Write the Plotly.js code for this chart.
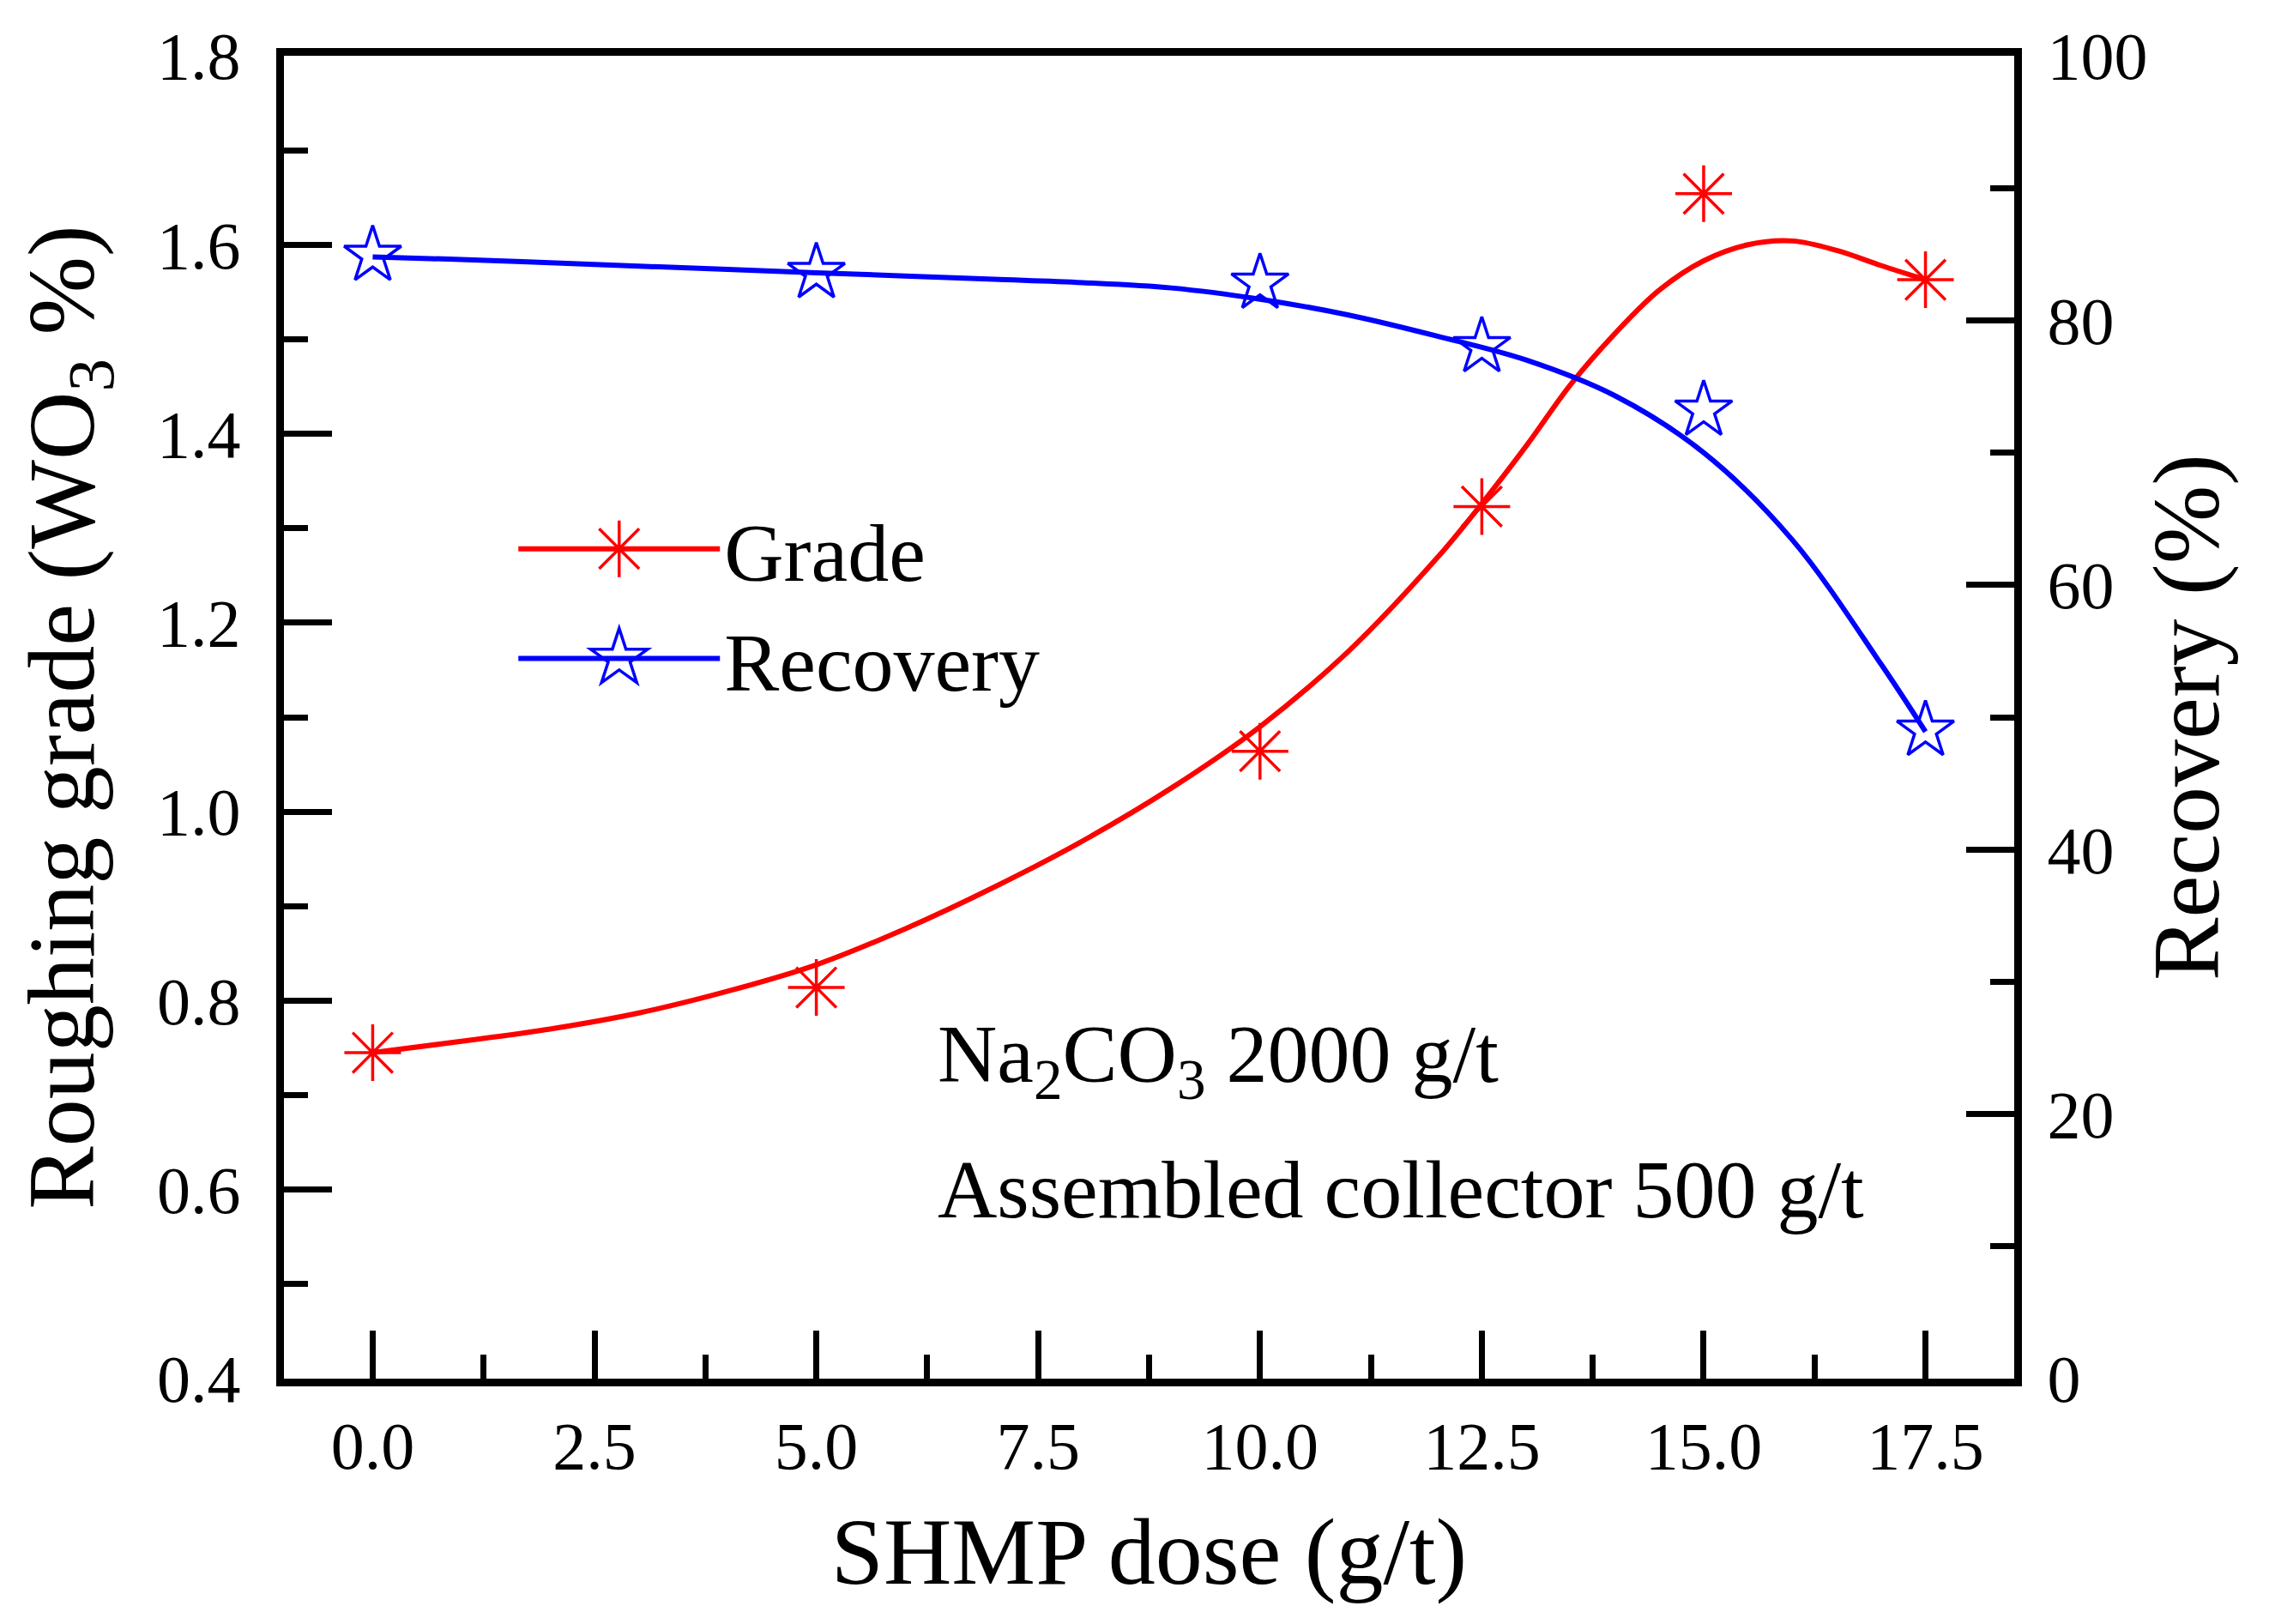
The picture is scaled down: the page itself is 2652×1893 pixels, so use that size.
<!DOCTYPE html>
<html>
<head>
<meta charset="utf-8">
<script src="https://cdn.plot.ly/plotly-3.0.1.min.js"></script>
<style>
  html, body { margin: 0; padding: 0; background: #ffffff; }
  #chart { width: 2652px; height: 1893px; }
</style>
</head>
<body>
<div id="chart"></div>
<script>
// ---- data ----
const doseX = [0, 5, 10, 12.5, 15, 17.5];
const gradeValues = [0.745, 0.814, 1.064, 1.323, 1.654, 1.563];
const recoveryValues = [84.9, 83.6, 82.8, 78.0, 73.2, 49.0];

// fitted curves as drawn in the reference
const gradeFitX = [0, 1, 2, 3, 4, 5, 6, 7, 8, 9, 10, 11, 12, 12.5, 13, 13.5, 14, 14.5, 15, 15.5, 16, 16.5, 17, 17.5];
const gradeFitY = [0.745, 0.757, 0.770, 0.787, 0.810, 0.838, 0.876, 0.920, 0.969, 1.025, 1.090, 1.170, 1.269, 1.326, 1.387, 1.452, 1.506, 1.552, 1.583, 1.600, 1.604, 1.594, 1.578, 1.563];
const recoveryFitX = [0, 1, 2, 3, 4, 5, 6, 7, 8, 9, 10, 11, 12, 13, 14, 15, 16, 17, 17.5];
const recoveryFitY = [84.8, 84.6, 84.35, 84.1, 83.85, 83.6, 83.35, 83.1, 82.85, 82.45, 81.6, 80.4, 78.8, 77.0, 74.3, 70.0, 63.4, 54.0, 48.9];

const xTickVals = [0, 2.5, 5, 7.5, 10, 12.5, 15, 17.5];
const xTickText = ['0.0', '2.5', '5.0', '7.5', '10.0', '12.5', '15.0', '17.5'];

const seriesNames = ['Grade', 'Recovery'];
const noteLines = ['Na<sub>2</sub>CO<sub>3</sub> 2000 g/t', 'Assembled collector 500 g/t'];

// separate points by gaps so the marker traces show a legend line without joining points
function gapped(arr) {
  const out = [];
  arr.forEach((v, i) => { if (i > 0) out.push(null); out.push(v); });
  return out;
}

const RED = '#ff0000';
const BLUE = '#0000ff';
const FONT = 'Liberation Serif, Times New Roman, serif';
const GRADE_MS = 55, REC_MS = 50, MLW = 3.5;

const traces = [
  {
    x: gradeFitX, y: gradeFitY, yaxis: 'y', mode: 'lines',
    line: { color: RED, width: 6, shape: 'spline', smoothing: 1 },
    showlegend: false, hoverinfo: 'skip'
  },
  {
    x: recoveryFitX, y: recoveryFitY, yaxis: 'y2', mode: 'lines',
    line: { color: BLUE, width: 6, shape: 'spline', smoothing: 1 },
    showlegend: false, hoverinfo: 'skip'
  },
  {
    name: seriesNames[0],
    x: gapped(doseX), y: gapped(gradeValues), yaxis: 'y',
    mode: 'lines+markers', connectgaps: false,
    line: { color: RED, width: 6 },
    marker: { symbol: 'asterisk-open', size: GRADE_MS, color: RED, line: { color: RED, width: MLW } }
  },
  {
    name: seriesNames[1],
    x: gapped(doseX), y: gapped(recoveryValues), yaxis: 'y2',
    mode: 'lines+markers', connectgaps: false,
    line: { color: BLUE, width: 6 },
    marker: { symbol: 'star-open', size: REC_MS, color: BLUE, line: { color: BLUE, width: MLW } }
  }
];

const axisCommon = {
  showgrid: false, zeroline: false,
  showline: true, linecolor: '#000000', linewidth: 9,
  ticks: 'inside', ticklen: 56, tickwidth: 7, tickcolor: '#000000',
  tickfont: { family: FONT, size: 78, color: '#000000' }
};

const layout = {
  width: 2652, height: 1893,
  paper_bgcolor: '#ffffff', plot_bgcolor: '#ffffff',
  margin: { l: 331, r: 304, t: 65, b: 286 },
  font: { family: FONT, color: '#000000' },
  xaxis: Object.assign({}, axisCommon, {
    range: [-1, 18.5], mirror: true,
    tickmode: 'array', tickvals: xTickVals, ticktext: xTickText,
    ticklabelstandoff: 2,
    minor: { dtick: 1.25, tick0: 0, ticks: 'inside', ticklen: 28, tickwidth: 7, tickcolor: '#000000' },
    title: { text: 'SHMP dose (g/t)', font: { family: FONT, size: 110, color: '#000000' }, standoff: 45 }
  }),
  yaxis: Object.assign({}, axisCommon, {
    range: [0.4, 1.8], tick0: 0.4, dtick: 0.2, tickformat: '.1f',
    ticklabelstandoff: 26,
    minor: { dtick: 0.1, tick0: 0.4, ticks: 'inside', ticklen: 28, tickwidth: 7, tickcolor: '#000000' },
    title: { text: 'Roughing grade (WO<sub>3</sub> %)', font: { family: FONT, size: 110, color: '#000000' }, standoff: 40 }
  }),
  yaxis2: Object.assign({}, axisCommon, {
    range: [0, 100], tick0: 0, dtick: 20, overlaying: 'y', side: 'right',
    ticklabelstandoff: 14,
    minor: { dtick: 10, tick0: 0, ticks: 'inside', ticklen: 28, tickwidth: 7, tickcolor: '#000000' },
    title: { text: 'Recovery (%)', font: { family: FONT, size: 110, color: '#000000' }, standoff: 10 }
  }),
  legend: {
    x: 0.133, y: 0.672, xanchor: 'left', yanchor: 'top',
    bgcolor: 'rgba(0,0,0,0)', borderwidth: 0,
    itemwidth: 235,
    font: { family: FONT, size: 96, color: '#000000' }
  },
  annotations: [
    { xref: 'paper', yref: 'paper', x: 0.377, y: 0.241, xanchor: 'left', yanchor: 'middle',
      text: noteLines[0], showarrow: false, font: { family: FONT, size: 96, color: '#000000' } },
    { xref: 'paper', yref: 'paper', x: 0.377, y: 0.143, xanchor: 'left', yanchor: 'middle',
      text: noteLines[1], showarrow: false, font: { family: FONT, size: 96, color: '#000000' } }
  ]
};

// Plotly caps legend marker size at 16 px; scale the legend symbols up to match the plotted markers.
function enlargeLegendMarkers(gd) {
  const sizes = [GRADE_MS, REC_MS];
  gd.querySelectorAll('.legend .traces').forEach((tr, i) => {
    const k = (sizes[i] || 16) / 16;
    tr.querySelectorAll('.legendpoints path.scatterpts').forEach(p => {
      const t = p.getAttribute('transform') || '';
      if (!/scale/.test(t)) p.setAttribute('transform', t + ' scale(' + k + ')');
      p.style.strokeWidth = (MLW / k) + 'px';
    });
  });
}

Plotly.newPlot('chart', traces, layout, { staticPlot: true, displayModeBar: false })
  .then(gd => enlargeLegendMarkers(gd));
</script>
</body>
</html>
